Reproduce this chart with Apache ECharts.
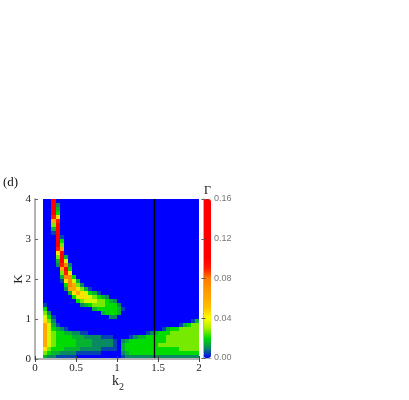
<!DOCTYPE html>
<html>
<head>
<meta charset="utf-8">
<script src="https://cdn.jsdelivr.net/npm/echarts@6/dist/echarts.min.js"></script>
<style>
  html, body { margin: 0; padding: 0; background: #fff; }
  #chart { width: 409px; height: 400px; }
</style>
</head>
<body>
<div id="chart"></div>
<script>
// heatmap cells: k2 from 0.1 to 2 in steps of 0.05, K from 0 to 4 in steps of 0.1
const k2Start = 0.1;
const k2Step = 0.05;
const kStep = 0.1;

// level code -> Gamma
const levelValue = {
  '0': 0, '1': 0.005, '2': 0.010, '3': 0.015, '4': 0.020, '5': 0.027,
  '6': 0.035, '7': 0.045, '8': 0.060, '9': 0.075, 'a': 0.090, 'b': 0.120
};

// one string per K row, top row (K 3.9-4.0) first; 38 columns, grouped by 5
const gammaRows = [
  "00b00 00000 00000 00000 00000 00000 00000 000",
  "00b20 00000 00000 00000 00000 00000 00000 000",
  "00b30 00000 00000 00000 00000 00000 00000 000",
  "00b40 00000 00000 00000 00000 00000 00000 000",
  "00a70 00000 00000 00000 00000 00000 00000 000",
  "008a0 00000 00000 00000 00000 00000 00000 000",
  "005b0 00000 00000 00000 00000 00000 00000 000",
  "003b0 00000 00000 00000 00000 00000 00000 000",
  "001b0 00000 00000 00000 00000 00000 00000 000",
  "000b1 00000 00000 00000 00000 00000 00000 000",
  "000b4 00000 00000 00000 00000 00000 00000 000",
  "000b5 00000 00000 00000 00000 00000 00000 000",
  "000a8 00000 00000 00000 00000 00000 00000 000",
  "0007b 00000 00000 00000 00000 00000 00000 000",
  "0005b 30000 00000 00000 00000 00000 00000 000",
  "0003b 60000 00000 00000 00000 00000 00000 000",
  "0002a 92000 00000 00000 00000 00000 00000 000",
  "00008 b4000 00000 00000 00000 00000 00000 000",
  "00005 a7000 00000 00000 00000 00000 00000 000",
  "00003 99400 00000 00000 00000 00000 00000 000",
  "00001 79630 00000 00000 00000 00000 00000 000",
  "00000 49852 00000 00000 00000 00000 00000 000",
  "00000 28875 31000 00000 00000 00000 00000 000",
  "00000 03787 64310 00000 00000 00000 00000 000",
  "00000 00467 76543 20000 00000 00000 00000 000",
  "00000 00045 66655 43200 00000 00000 00000 000",
  "10000 00002 34555 44420 00000 00000 00000 000",
  "40000 00000 00344 44431 00000 00000 00000 000",
  "52000 00000 00003 44430 00000 00000 00000 000",
  "64100 00000 00000 02200 00000 00000 00000 000",
  "75200 00000 00000 00000 00000 00000 00000 013",
  "86310 00000 00000 00000 00000 00000 00013 455",
  "86432 10000 00000 00000 00000 00001 34455 555",
  "86544 33221 10000 00000 00000 12344 45555 555",
  "86544 44333 22221 11000 01233 44444 55555 555",
  "86544 44433 33222 22102 34444 44444 55555 555",
  "86544 44433 33222 22103 44444 44455 55555 555",
  "75444 33332 22221 11103 44444 44444 44455 555",
  "54332 22211 11110 00002 34444 44444 44444 444",
  "32211 11100 00000 00001 22222 22222 22222 222"
];

const xTicks = [0, 0.5, 1, 1.5, 2];
const colorTicks = [0, 0.04, 0.08, 0.12, 0.16];
const markK2 = 1.455;

const paletteColors = [
  '#0000ff', '#0a8a60', '#00dc00', '#a8f000', '#ffff00', '#ffc400',
  '#ffa800', '#ff9400', '#ff7a00', '#ff1a00', '#ff0000', '#ff0000',
  '#ff0000', '#ff0000', '#ff0000', '#ff0000', '#ff0000'
];

const cells = [];
gammaRows.forEach(function (row, r) {
  const codes = row.replace(/\s/g, '');
  const kLow = (gammaRows.length - 1 - r) * kStep;
  for (let i = 0; i < codes.length; i++) {
    cells.push([k2Start + i * k2Step, kLow, levelValue[codes[i]]]);
  }
});

const frameColor = '#b4b4b4';
const serif = '"Liberation Serif", "DejaVu Serif", serif';

const chart = echarts.init(document.getElementById('chart'));
chart.setOption({
  animation: false,
  backgroundColor: '#fff',
  grid: [
    { left: 35, top: 199, width: 164, height: 160 },
    { left: 203.5, top: 199, width: 7.5, height: 159 }
  ],
  xAxis: [
    {
      type: 'value', gridIndex: 0, min: 0, max: 2, interval: 0.5, z: 5,
      axisLine: { show: true, lineStyle: { color: frameColor, width: 2 } },
      axisTick: { show: true, inside: true, length: 3, lineStyle: { color: '#444' } },
      axisLabel: { margin: 4, color: '#222', fontSize: 11, fontFamily: serif },
      splitLine: { show: false }
    },
    {
      type: 'value', gridIndex: 0, position: 'top', min: 0, max: 2, interval: 0.5, z: 5,
      axisLine: { show: true, lineStyle: { color: frameColor, width: 2 } },
      axisTick: { show: true, inside: true, length: 3, lineStyle: { color: '#444' } },
      axisLabel: { show: false },
      splitLine: { show: false }
    },
    {
      type: 'value', gridIndex: 1, min: 0, max: 1, z: 5,
      axisLine: { show: true, lineStyle: { color: frameColor, width: 1 } },
      axisTick: { show: false }, axisLabel: { show: false }, splitLine: { show: false }
    },
    {
      type: 'value', gridIndex: 1, position: 'top', min: 0, max: 1, z: 5,
      axisLine: { show: true, lineStyle: { color: frameColor, width: 1 } },
      axisTick: { show: false }, axisLabel: { show: false }, splitLine: { show: false }
    }
  ],
  yAxis: [
    {
      type: 'value', gridIndex: 0, min: 0, max: 4, interval: 1, z: 5,
      axisLine: { show: false },
      axisTick: { show: true, inside: true, length: 3, lineStyle: { color: '#666' } },
      axisLabel: { margin: 4, color: '#222', fontSize: 11, fontFamily: serif },
      splitLine: { show: false }
    },
    {
      type: 'value', gridIndex: 0, position: 'right', min: 0, max: 4, interval: 1, z: 5,
      axisLine: { show: true, lineStyle: { color: frameColor, width: 2 } },
      axisTick: { show: false }, axisLabel: { show: false }, splitLine: { show: false }
    },
    {
      type: 'value', gridIndex: 1, position: 'right', min: colorTicks[0],
      max: colorTicks[colorTicks.length - 1], interval: 0.04, z: 5,
      axisLine: { show: true, lineStyle: { color: frameColor, width: 1 } },
      axisTick: { show: true, inside: true, length: 2, lineStyle: { color: '#555' } },
      axisLabel: {
        margin: 3, color: '#777', fontSize: 9, fontFamily: '"Liberation Sans", Arial, sans-serif',
        formatter: function (v) { return v.toFixed(2); }
      },
      splitLine: { show: false }
    },
    {
      type: 'value', gridIndex: 1, position: 'left', min: colorTicks[0],
      max: colorTicks[colorTicks.length - 1], interval: 0.04, z: 5,
      axisLine: { show: true, lineStyle: { color: frameColor, width: 1 } },
      axisTick: { show: true, inside: true, length: 2, lineStyle: { color: '#555' } },
      axisLabel: { show: false }, splitLine: { show: false }
    }
  ],
  visualMap: {
    type: 'continuous',
    seriesIndex: 0,
    dimension: 2,
    min: colorTicks[0],
    max: colorTicks[colorTicks.length - 1],
    calculable: false,
    orient: 'vertical',
    left: 203.5,
    top: 199,
    itemWidth: 7.5,
    itemHeight: 159,
    padding: 0,
    text: null,
    showLabel: false,
    inRange: { color: paletteColors }
  },
  series: [
    {
      type: 'custom',
      xAxisIndex: 0,
      yAxisIndex: 0,
      encode: { x: 0, y: 1 },
      data: cells,
      renderItem: function (params, api) {
        const x0 = api.value(0);
        const y0 = api.value(1);
        const p0 = api.coord([x0, y0 + kStep]);
        const p1 = api.coord([x0 + k2Step, y0]);
        const left = Math.round(p0[0]);
        const top = Math.round(p0[1]);
        return {
          type: 'rect',
          shape: { x: left, y: top, width: Math.round(p1[0]) - left, height: Math.round(p1[1]) - top },
          style: { fill: api.visual('color'), stroke: null, lineWidth: 0 }
        };
      },
      markLine: {
        silent: true,
        symbol: 'none',
        label: { show: false },
        lineStyle: { color: '#000', width: 1.3, type: 'solid' },
        data: [{ xAxis: markK2 }]
      }
    }
  ],
  graphic: [
    { type: 'text', left: 3, top: 176, style: { text: '(d)', font: '13px ' + serif, fill: '#111' } },
    { type: 'text', left: 204, top: 185, style: { text: 'Γ', font: '12px ' + serif, fill: '#111' } },
    { type: 'text', left: 112, top: 374, style: { text: 'k', font: '14px ' + serif, fill: '#222' } },
    { type: 'text', left: 119, top: 382, style: { text: '2', font: '10px ' + serif, fill: '#222' } },
    {
      type: 'text', x: 19, y: 279, rotation: Math.PI / 2,
      style: { text: 'K', font: '13px ' + serif, fill: '#222', align: 'center', verticalAlign: 'middle' }
    }
  ]
});
</script>
</body>
</html>
